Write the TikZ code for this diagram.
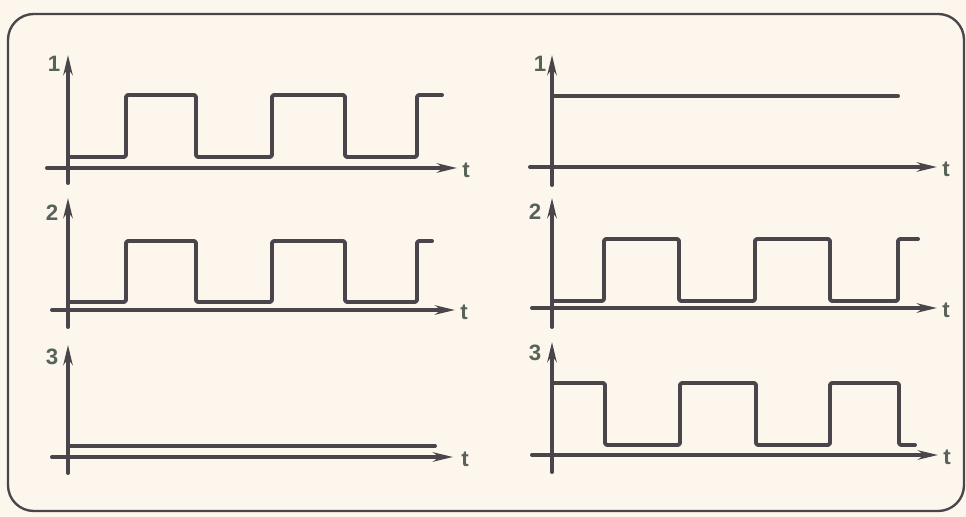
\documentclass[tikz,border=0pt]{standalone}
\usepackage{fontspec}
\setmainfont{Liberation Sans}
\usetikzlibrary{arrows.meta}
\definecolor{paper}{HTML}{FDF6EC}
\definecolor{ink}{HTML}{4A454A}
\definecolor{lblcol}{HTML}{56625A}
\begin{document}
\begin{tikzpicture}[x=0.03cm, y=-0.03cm, line join=round, line cap=round,
    >={Stealth[length=0.6cm,width=0.28cm]}, line width=3.4pt, draw=ink,
    wave/.style={rounded corners=2pt},
    lbl/.style={text=lblcol, font=\fontsize{19}{22}\selectfont\bfseries, inner sep=0pt}]
  \fill[paper] (0,0) rectangle (966,517);
  \draw[rounded corners=22pt, line width=2pt] (8,14) rectangle (964,511);
  % left column
  \draw[->] (68,183) -- (68,55);
  \draw[->] (47,168) -- (457,168);
  \node[lbl] (l1) at (54,64) {1};
  \node[lbl] (lt1) at (466,170) {t};
  \draw[wave] (68,157) -- (126,157) -- (126,95) -- (196,95) -- (196,157) -- (272,157) -- (272,95)
    -- (345,95) -- (345,157) -- (417,157) -- (417,95) -- (442,95);
  \draw[->] (68,327) -- (68,198);
  \draw[->] (52,310) -- (455,310);
  \node[lbl] (l2) at (52,213) {2};
  \node[lbl] (lt2) at (464,312) {t};
  \draw[wave] (68,302) -- (126,302) -- (126,241) -- (196,241) -- (196,302) -- (272,302) -- (272,241)
    -- (345,241) -- (345,302) -- (417,302) -- (417,241) -- (432,241);
  \draw[->] (68,473) -- (68,345);
  \draw[->] (52,457) -- (453,457);
  \node[lbl] (l3) at (52,357) {3};
  \node[lbl] (lt3) at (465,459) {t};
  \draw (68,446) -- (435,446);
  % right column
  \draw[->] (552,185) -- (552,55);
  \draw[->] (530,167) -- (937,167);
  \node[lbl] (r1) at (540,64) {1};
  \node[lbl] (rt1) at (946,169) {t};
  \draw (552,96) -- (898,96);
  \draw[->] (552,327) -- (552,198);
  \draw[->] (532,308) -- (937,308);
  \node[lbl] (r2) at (535,212) {2};
  \node[lbl] (rt2) at (946,310) {t};
  \draw[wave] (552,301) -- (604,301) -- (604,239) -- (679,239) -- (679,301) -- (755,301) -- (755,239)
    -- (830,239) -- (830,301) -- (898,301) -- (898,239) -- (918,239);
  \draw[->] (552,472) -- (552,342);
  \draw[->] (532,455) -- (938,455);
  \node[lbl] (r3) at (535,353) {3};
  \node[lbl] (rt3) at (947,457) {t};
  \draw[wave] (552,383) -- (605,383) -- (605,445) -- (680,445) -- (680,383) -- (756,383) -- (756,445)
    -- (830,445) -- (830,383) -- (899,383) -- (899,445) -- (915,445);
\end{tikzpicture}
\end{document}
